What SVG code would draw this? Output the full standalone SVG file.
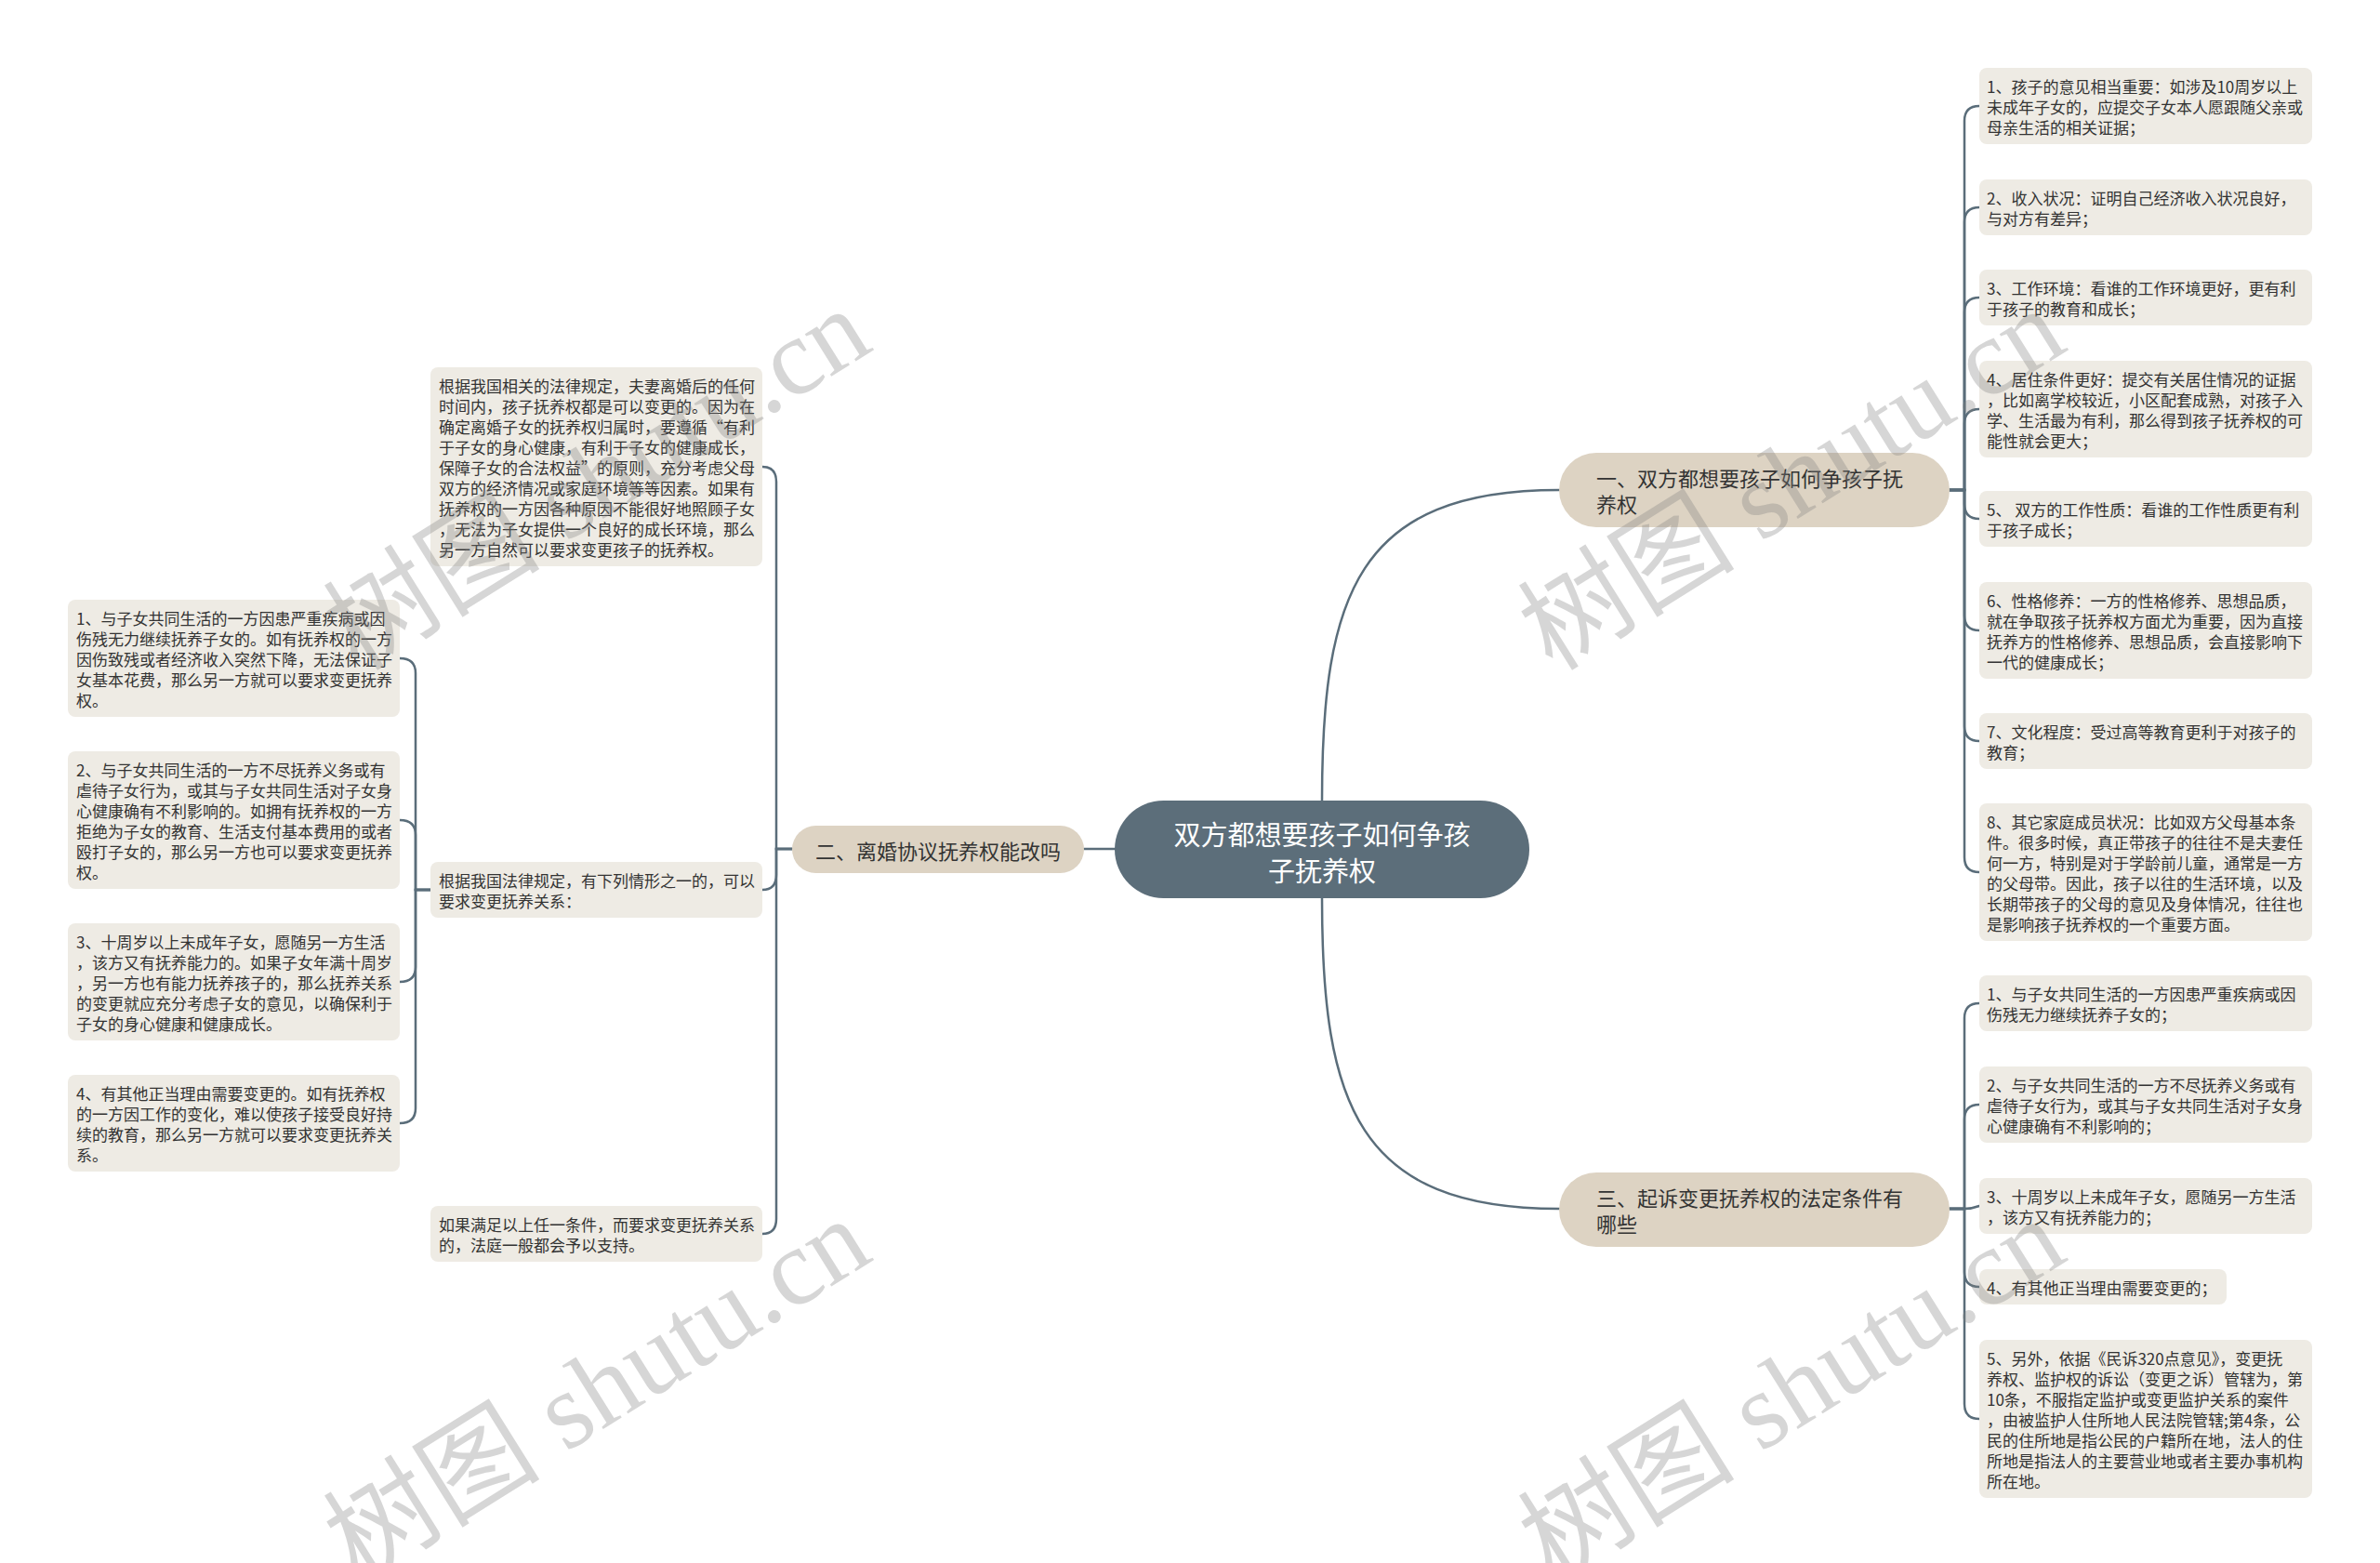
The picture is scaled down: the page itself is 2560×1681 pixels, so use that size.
<svg xmlns="http://www.w3.org/2000/svg" width="2560" height="1681" viewBox="0 0 2560 1681">
<style>
.bg{fill:#ffffff}
.leaf{fill:#eeebe4}
.topic{fill:#ddd3c3}
.root{fill:#5c6e7a}
.t{font-family:"Noto Sans CJK SC","Noto Sans",sans-serif;font-size:17px;fill:#333333;dominant-baseline:central}
.tt{font-family:"Noto Sans CJK SC","Noto Sans",sans-serif;font-size:22px;fill:#333333;dominant-baseline:central}
.rt{font-family:"Noto Sans CJK SC","Noto Sans",sans-serif;font-size:29px;fill:#ffffff;dominant-baseline:central;text-anchor:middle}
.ln{fill:none;stroke:#5a6d7a;stroke-width:2.5;stroke-linecap:round}
.wm{font-family:"Liberation Serif","Noto Sans CJK SC",serif;font-size:117px;fill:#808080;fill-opacity:0.32}
</style>
<rect class="bg" x="0" y="0" width="2560" height="1681"/>

<g id="connectors">
<path class="ln" d="M1422,861 C1422,640 1460,527 1677,527"/>
<path class="ln" d="M1422,966 C1422,1187 1460,1300 1677,1300"/>
<path class="ln" d="M1199,913 L1166,913"/>
<path class="ln" d="M2097,527 L2113,527 L2113,130 Q2113,114 2129,114"/>
<path class="ln" d="M2097,527 L2113,527 L2113,239 Q2113,223 2129,223"/>
<path class="ln" d="M2097,527 L2113,527 L2113,336 Q2113,320 2129,320"/>
<path class="ln" d="M2097,527 L2113,527 L2113,456 Q2113,440 2129,440"/>
<path class="ln" d="M2097,527 L2113,527 L2113,542 Q2113,558 2129,558"/>
<path class="ln" d="M2097,527 L2113,527 L2113,662 Q2113,678 2129,678"/>
<path class="ln" d="M2097,527 L2113,527 L2113,781 Q2113,797 2129,797"/>
<path class="ln" d="M2097,527 L2113,527 L2113,922 Q2113,938 2129,938"/>
<path class="ln" d="M2097,1300 L2113,1300 L2113,1095 Q2113,1079 2129,1079"/>
<path class="ln" d="M2097,1300 L2113,1300 L2113,1204 Q2113,1188 2129,1188"/>
<path class="ln" d="M2097,1300 L2113,1300 Q2121,1300 2129,1297"/>
<path class="ln" d="M2097,1300 L2113,1300 L2113,1368 Q2113,1384 2129,1384"/>
<path class="ln" d="M2097,1300 L2113,1300 L2113,1510 Q2113,1526 2129,1526"/>
<path class="ln" d="M852,913 L835,913 L835,518 Q835,502 820,502"/>
<path class="ln" d="M852,913 L835,913 L835,941 Q835,957 820,957"/>
<path class="ln" d="M852,913 L835,913 L835,1311 Q835,1327 820,1327"/>
<path class="ln" d="M463,957 L447,957 L447,724 Q447,708 430,708"/>
<path class="ln" d="M463,957 L447,957 L447,898 Q447,882 430,882"/>
<path class="ln" d="M463,957 L447,957 L447,1040 Q447,1056 430,1056"/>
<path class="ln" d="M463,957 L447,957 L447,1192 Q447,1208 430,1208"/>
</g>

<g id="root">
<rect class="root" x="1199" y="861" width="446" height="105" rx="52.5"/>
<text class="rt" x="1422" y="896">双方都想要孩子如何争孩</text>
<text class="rt" x="1422" y="935">子抚养权</text>
</g>

<g id="topic1">
<rect class="topic" x="1677" y="487" width="420" height="80" rx="40"/>
<text class="tt" x="1717" y="513">一、双方都想要孩子如何争孩子抚</text>
<text class="tt" x="1717" y="541">养权</text>
</g>

<g id="topic2">
<rect class="topic" x="852" y="888" width="314" height="51" rx="25.5"/>
<text class="tt" x="1009" y="914" text-anchor="middle">二、离婚协议抚养权能改吗</text>
</g>

<g id="topic3">
<rect class="topic" x="1677" y="1261" width="420" height="80" rx="40"/>
<text class="tt" x="1717" y="1287">三、起诉变更抚养权的法定条件有</text>
<text class="tt" x="1717" y="1315">哪些</text>
</g>

<g id="r1">
<rect class="leaf" x="2129" y="73" width="358" height="82" rx="8"/>
<text class="t" x="2137" y="92">1、孩子的意见相当重要：如涉及10周岁以上</text>
<text class="t" x="2137" y="114">未成年子女的，应提交子女本人愿跟随父亲或</text>
<text class="t" x="2137" y="136">母亲生活的相关证据；</text>
</g>
<g id="r2">
<rect class="leaf" x="2129" y="193" width="358" height="60" rx="8"/>
<text class="t" x="2137" y="212">2、收入状况：证明自己经济收入状况良好，</text>
<text class="t" x="2137" y="234">与对方有差异；</text>
</g>
<g id="r3">
<rect class="leaf" x="2129" y="290" width="358" height="60" rx="8"/>
<text class="t" x="2137" y="309">3、工作环境：看谁的工作环境更好，更有利</text>
<text class="t" x="2137" y="331">于孩子的教育和成长；</text>
</g>
<g id="r4">
<rect class="leaf" x="2129" y="388" width="358" height="104" rx="8"/>
<text class="t" x="2137" y="407">4、居住条件更好：提交有关居住情况的证据</text>
<text class="t" x="2137" y="429">，比如离学校较近，小区配套成熟，对孩子入</text>
<text class="t" x="2137" y="451">学、生活最为有利，那么得到孩子抚养权的可</text>
<text class="t" x="2137" y="473">能性就会更大；</text>
</g>
<g id="r5">
<rect class="leaf" x="2129" y="528" width="358" height="60" rx="8"/>
<text class="t" x="2137" y="547">5、 双方的工作性质：看谁的工作性质更有利</text>
<text class="t" x="2137" y="569">于孩子成长；</text>
</g>
<g id="r6">
<rect class="leaf" x="2129" y="626" width="358" height="104" rx="8"/>
<text class="t" x="2137" y="645">6、性格修养：一方的性格修养、思想品质，</text>
<text class="t" x="2137" y="667">就在争取孩子抚养权方面尤为重要，因为直接</text>
<text class="t" x="2137" y="689">抚养方的性格修养、思想品质，会直接影响下</text>
<text class="t" x="2137" y="711">一代的健康成长；</text>
</g>
<g id="r7">
<rect class="leaf" x="2129" y="767" width="358" height="60" rx="8"/>
<text class="t" x="2137" y="786">7、文化程度：受过高等教育更利于对孩子的</text>
<text class="t" x="2137" y="808">教育；</text>
</g>
<g id="r8">
<rect class="leaf" x="2129" y="864" width="358" height="148" rx="8"/>
<text class="t" x="2137" y="883">8、其它家庭成员状况：比如双方父母基本条</text>
<text class="t" x="2137" y="905">件。很多时候，真正带孩子的往往不是夫妻任</text>
<text class="t" x="2137" y="927">何一方，特别是对于学龄前儿童，通常是一方</text>
<text class="t" x="2137" y="949">的父母带。因此，孩子以往的生活环境，以及</text>
<text class="t" x="2137" y="971">长期带孩子的父母的意见及身体情况，往往也</text>
<text class="t" x="2137" y="993">是影响孩子抚养权的一个重要方面。</text>
</g>

<g id="s1">
<rect class="leaf" x="2129" y="1049" width="358" height="60" rx="8"/>
<text class="t" x="2137" y="1068">1、与子女共同生活的一方因患严重疾病或因</text>
<text class="t" x="2137" y="1090">伤残无力继续抚养子女的；</text>
</g>
<g id="s2">
<rect class="leaf" x="2129" y="1147" width="358" height="82" rx="8"/>
<text class="t" x="2137" y="1166">2、与子女共同生活的一方不尽抚养义务或有</text>
<text class="t" x="2137" y="1188">虐待子女行为，或其与子女共同生活对子女身</text>
<text class="t" x="2137" y="1210">心健康确有不利影响的；</text>
</g>
<g id="s3">
<rect class="leaf" x="2129" y="1267" width="358" height="60" rx="8"/>
<text class="t" x="2137" y="1286">3、十周岁以上未成年子女，愿随另一方生活</text>
<text class="t" x="2137" y="1308">，该方又有抚养能力的；</text>
</g>
<g id="s4">
<rect class="leaf" x="2129" y="1365" width="266" height="38" rx="8"/>
<text class="t" x="2137" y="1384">4、有其他正当理由需要变更的；</text>
</g>
<g id="s5">
<rect class="leaf" x="2129" y="1441" width="358" height="170" rx="8"/>
<text class="t" x="2137" y="1460">5、另外，依据《民诉320点意见》，变更抚</text>
<text class="t" x="2137" y="1482">养权、监护权的诉讼（变更之诉）管辖为，第</text>
<text class="t" x="2137" y="1504">10条，不服指定监护或变更监护关系的案件</text>
<text class="t" x="2137" y="1526">，由被监护人住所地人民法院管辖;第4条，公</text>
<text class="t" x="2137" y="1548">民的住所地是指公民的户籍所在地，法人的住</text>
<text class="t" x="2137" y="1570">所地是指法人的主要营业地或者主要办事机构</text>
<text class="t" x="2137" y="1592">所在地。</text>
</g>

<g id="m1">
<rect class="leaf" x="463" y="395" width="357" height="214" rx="8"/>
<text class="t" x="472" y="414">根据我国相关的法律规定，夫妻离婚后的任何</text>
<text class="t" x="472" y="436">时间内，孩子抚养权都是可以变更的。因为在</text>
<text class="t" x="472" y="458">确定离婚子女的抚养权归属时，要遵循“有利</text>
<text class="t" x="472" y="480">于子女的身心健康，有利于子女的健康成长，</text>
<text class="t" x="472" y="502">保障子女的合法权益”的原则，充分考虑父母</text>
<text class="t" x="472" y="524">双方的经济情况或家庭环境等等因素。如果有</text>
<text class="t" x="472" y="546">抚养权的一方因各种原因不能很好地照顾子女</text>
<text class="t" x="472" y="568">，无法为子女提供一个良好的成长环境，那么</text>
<text class="t" x="472" y="590">另一方自然可以要求变更孩子的抚养权。</text>
</g>
<g id="m2">
<rect class="leaf" x="463" y="927" width="357" height="60" rx="8"/>
<text class="t" x="472" y="946">根据我国法律规定，有下列情形之一的，可以</text>
<text class="t" x="472" y="968">要求变更抚养关系：</text>
</g>
<g id="m3">
<rect class="leaf" x="463" y="1297" width="357" height="60" rx="8"/>
<text class="t" x="472" y="1316">如果满足以上任一条件，而要求变更抚养关系</text>
<text class="t" x="472" y="1338">的，法庭一般都会予以支持。</text>
</g>

<g id="l1">
<rect class="leaf" x="73" y="645" width="357" height="126" rx="8"/>
<text class="t" x="82" y="664">1、与子女共同生活的一方因患严重疾病或因</text>
<text class="t" x="82" y="686">伤残无力继续抚养子女的。如有抚养权的一方</text>
<text class="t" x="82" y="708">因伤致残或者经济收入突然下降，无法保证子</text>
<text class="t" x="82" y="730">女基本花费，那么另一方就可以要求变更抚养</text>
<text class="t" x="82" y="752">权。</text>
</g>
<g id="l2">
<rect class="leaf" x="73" y="808" width="357" height="148" rx="8"/>
<text class="t" x="82" y="827">2、与子女共同生活的一方不尽抚养义务或有</text>
<text class="t" x="82" y="849">虐待子女行为，或其与子女共同生活对子女身</text>
<text class="t" x="82" y="871">心健康确有不利影响的。如拥有抚养权的一方</text>
<text class="t" x="82" y="893">拒绝为子女的教育、生活支付基本费用的或者</text>
<text class="t" x="82" y="915">殴打子女的，那么另一方也可以要求变更抚养</text>
<text class="t" x="82" y="937">权。</text>
</g>
<g id="l3">
<rect class="leaf" x="73" y="993" width="357" height="126" rx="8"/>
<text class="t" x="82" y="1012">3、十周岁以上未成年子女，愿随另一方生活</text>
<text class="t" x="82" y="1034">，该方又有抚养能力的。如果子女年满十周岁</text>
<text class="t" x="82" y="1056">，另一方也有能力抚养孩子的，那么抚养关系</text>
<text class="t" x="82" y="1078">的变更就应充分考虑子女的意见，以确保利于</text>
<text class="t" x="82" y="1100">子女的身心健康和健康成长。</text>
</g>
<g id="l4">
<rect class="leaf" x="73" y="1156" width="357" height="104" rx="8"/>
<text class="t" x="82" y="1175">4、有其他正当理由需要变更的。如有抚养权</text>
<text class="t" x="82" y="1197">的一方因工作的变化，难以使孩子接受良好持</text>
<text class="t" x="82" y="1219">续的教育，那么另一方就可以要求变更抚养关</text>
<text class="t" x="82" y="1241">系。</text>
</g>

<g id="watermarks">
<text class="wm" x="385" y="723" transform="rotate(-32 385 723)">树图 shutu.cn</text>
<text class="wm" x="1670" y="723" transform="rotate(-32 1670 723)">树图 shutu.cn</text>
<text class="wm" x="385" y="1702" transform="rotate(-32 385 1702)">树图 shutu.cn</text>
<text class="wm" x="1670" y="1702" transform="rotate(-32 1670 1702)">树图 shutu.cn</text>
</g>
</svg>
